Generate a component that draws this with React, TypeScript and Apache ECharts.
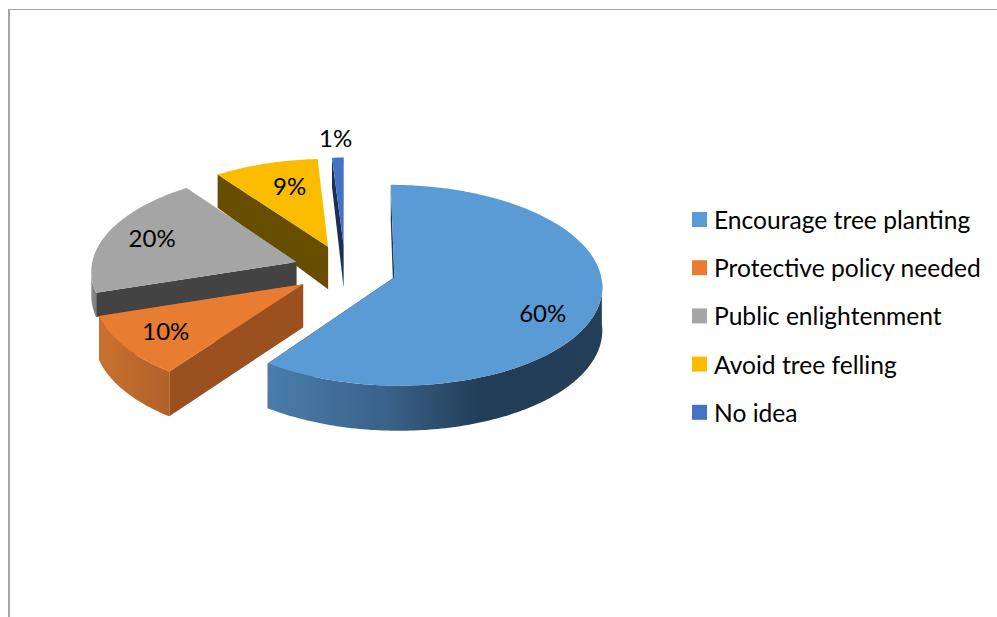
import React, { useEffect, useRef } from "react";
import * as echarts from "echarts";

const categories = [
  "Encourage tree planting",
  "Protective policy needed",
  "Public enlightenment",
  "Avoid tree felling",
  "No idea",
];
const shares = [60, 10, 20, 9, 1];

// Face and wall colours for each slice
const topColors = ["#5B9BD5", "#E87C30", "#A5A5A5", "#FBBC00", "#4472C4"];
const radialColors = ["#1F3A55", "#9A501F", "#434343", "#664D00", "#1B2E55"];
const outerStops = [
  [[0, "#4A7DAB"], [0.35, "#3A628A"], [0.64, "#223D56"], [1, "#243F57"]],
  [[0, "#C9712E"], [1, "#B2612A"]],
  [[0, "#8A8A8A"], [1, "#7F7F7F"]],
  [[0, "#9A7400"], [1, "#9A7400"]],
  [[0, "#2A4A80"], [1, "#2A4A80"]],
];
// Painter's order: far slices first
const drawOrder = [6, 5, 4, 3, 2];
// Label placement: radial factor, then pixel nudges
const labelRadius = [0.75, 0.82, 0.73, 0.6, 1.04];
const labelNudge = [[-3, 12], [8, -4], [-6, -3], [0, -10], [-2, -17]];
// Walls are trimmed where a nearer slice hides their lower part
const wallScale = [1, 1, 0.56, 1, 1];

// Camera and pie geometry
const OX = 345.2;
const OY = 269.5;
const RX = 205.6;
const RY = 98.5;
const PERSPECTIVE = 0.08;
const EXPLODE = 0.25;
const WALL_END = 266;
const FONT = '24px Lato, "Open Sans", sans-serif';

const total = shares.reduce((a, b) => a + b, 0);
const rad = (d: number) => (d * Math.PI) / 180;

function project(u: number, v: number): [number, number] {
  const w = 1 + PERSPECTIVE * v;
  return [OX + (RX * u) / w, OY - (RY * v) / w];
}

// Wall height shrinks toward the back of the pie
const wallHeight = (v: number) => (v > 0 ? 43 - 9 * v * v : 43 - 2 * v);

function renderSlice(index: number, start: number, share: number) {
  const startDeg = (start / total) * 360;
  const sweep = (share / total) * 360;
  const endDeg = startDeg + sweep;
  const mid = rad(startDeg + sweep / 2);
  const cu = EXPLODE * Math.sin(mid);
  const cv = EXPLODE * Math.cos(mid);

  const plane = (deg: number, r = 1): [number, number] => [
    cu + r * Math.sin(rad(deg)),
    cv + r * Math.cos(rad(deg)),
  ];
  const top = (deg: number, r = 1) => {
    const [u, v] = plane(deg, r);
    return project(u, v);
  };
  const bottom = (deg: number, r = 1) => {
    const [u, v] = plane(deg, r);
    const [x, y] = project(u, v);
    return [x, y + wallHeight(v) * wallScale[index]];
  };
  const arc = (from: number, to: number, f: (d: number) => number[]) => {
    const n = Math.max(2, Math.ceil(Math.abs(to - from)));
    const pts: number[][] = [];
    for (let k = 0; k <= n; k++) pts.push(f(from + ((to - from) * k) / n));
    return pts;
  };

  const children: any[] = [];
  const wall = (deg: number, color: string) =>
    children.push({
      type: "polygon",
      z2: 1,
      shape: { points: [top(deg), top(deg, 0), bottom(deg, 0), bottom(deg)] },
      style: { fill: color },
    });

  // Radial walls: one edge of each slice turns toward the viewer
  if (startDeg === 0 || startDeg > 180) wall(startDeg, radialColors[index]);
  if (endDeg <= 180 || (endDeg > 180 && endDeg < 270))
    wall(endDeg, radialColors[index]);

  // Curved outer wall, only on the near half
  const a = Math.max(startDeg, 92);
  const b = Math.min(endDeg, WALL_END);
  if (b > a) {
    children.push({
      type: "polygon",
      z2: 2,
      shape: {
        points: [...arc(a, b, top), ...arc(b, a, bottom)],
      },
      style: {
        fill: new echarts.graphic.LinearGradient(
          0,
          0,
          1,
          0,
          outerStops[index].map(([offset, color]) => ({ offset, color })) as any
        ),
      },
    });
  }

  // Top face
  children.push({
    type: "polygon",
    z2: 3,
    shape: { points: [top(startDeg, 0), ...arc(startDeg, endDeg, top)] },
    style: { fill: topColors[index] },
  });

  // Value label
  const labelAt = top(startDeg + sweep / 2, labelRadius[index]);
  children.push({
    type: "text",
    z2: 4,
    style: {
      text: `${share}%`,
      x: labelAt[0] + labelNudge[index][0],
      y: labelAt[1] + labelNudge[index][1],
      textAlign: "center",
      textVerticalAlign: "middle",
      font: FONT,
      fill: "#000000",
    },
  });

  return { type: "group", children };
}

export default function App() {
  const ref = useRef<HTMLDivElement>(null);

  useEffect(() => {
    const chart = echarts.init(ref.current!, undefined, { renderer: "svg" });
    let running = 0;
    const series = categories.map((name, i) => {
      const start = running;
      running += shares[i];
      return {
        type: "custom",
        name,
        coordinateSystem: "none",
        silent: true,
        z: drawOrder[i],
        itemStyle: { color: topColors[i] },
        data: [[shares[i], start]],
        renderItem: (_: any, api: any) =>
          renderSlice(i, api.value(1), api.value(0)),
      };
    });

    chart.setOption({
      animation: false,
      backgroundColor: "#ffffff",
      legend: {
        orient: "vertical",
        left: 687,
        top: 202,
        icon: "rect",
        itemWidth: 15,
        itemHeight: 15,
        itemGap: 23.2,
        data: categories,
        selectedMode: false,
        textStyle: {
          fontFamily: 'Lato, "Open Sans", sans-serif',
          fontSize: 24.6,
          color: "#000000",
          padding: [0, 0, 0, 2],
        },
      },
      graphic: [
        {
          type: "line",
          shape: { x1: 9, y1: 9.5, x2: 997, y2: 9.5 },
          style: { stroke: "#a6a6a6", lineWidth: 1 },
        },
        {
          type: "line",
          shape: { x1: 9, y1: 9, x2: 9, y2: 617 },
          style: { stroke: "#a6a6a6", lineWidth: 2 },
        },
      ],
      series,
    });
    return () => chart.dispose();
  }, []);

  return (
    <div
      ref={ref}
      style={{ position: "fixed", left: 0, top: 0, width: 997, height: 617 }}
    />
  );
}
